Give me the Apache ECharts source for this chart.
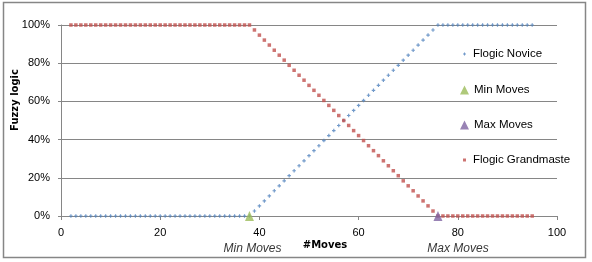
<!DOCTYPE html>
<html>
<head>
<meta charset="utf-8">
<script src="https://cdn.jsdelivr.net/npm/echarts@6/dist/echarts.min.js"></script>
<style>html,body{margin:0;padding:0;background:#fff}#c{width:592px;height:262px}</style>
</head>
<body>
<div id="c"></div>
<script>
var moves = [2,3,4,5,6,7,8,9,10,11,12,13,14,15,16,17,18,19,20,21,22,23,24,25,26,27,28,29,30,31,32,33,34,35,36,37,38,
  39,40,41,42,43,44,45,46,47,48,49,50,51,52,53,54,55,56,57,58,59,60,61,62,63,64,65,66,67,68,69,70,71,72,73,74,75,
  76,77,78,79,80,81,82,83,84,85,86,87,88,89,90,91,92,93,94,95];
var noviceValues = [0,0,0,0,0,0,0,0,0,0,0,0,0,0,0,0,0,0,0,0,0,0,0,0,0,0,0,0,0,0,0,0,0,0,0,0,0,
  0.026,0.053,0.079,0.105,0.132,0.158,0.184,0.211,0.237,0.263,0.289,0.316,0.342,0.368,0.395,0.421,0.447,0.474,0.5,
  0.526,0.553,0.579,0.605,0.632,0.658,0.684,0.711,0.737,0.763,0.789,0.816,0.842,0.868,0.895,0.921,0.947,0.974,
  1,1,1,1,1,1,1,1,1,1,1,1,1,1,1,1,1,1,1,1];
var grandmasterValues = [1,1,1,1,1,1,1,1,1,1,1,1,1,1,1,1,1,1,1,1,1,1,1,1,1,1,1,1,1,1,1,1,1,1,1,1,1,
  0.974,0.947,0.921,0.895,0.868,0.842,0.816,0.789,0.763,0.737,0.711,0.684,0.658,0.632,0.605,0.579,0.553,0.526,0.5,
  0.474,0.447,0.421,0.395,0.368,0.342,0.316,0.289,0.263,0.237,0.211,0.184,0.158,0.132,0.105,0.079,0.053,0.026,
  0,0,0,0,0,0,0,0,0,0,0,0,0,0,0,0,0,0,0,0];
var minMoves = [38, 0];
var maxMoves = [76, 0];
var seriesNames = ['Flogic Novice', 'Min Moves', 'Max Moves', 'Flogic Grandmaste'];
var xTicks = {min: 0, max: 100, interval: 20};
var yTicks = {min: 0, max: 1, interval: 0.2};

function pairs(xs, ys) { return xs.map(function (x, i) { return [x, ys[i]]; }); }

var plus = 'path://M1,0H2V1H3V2H2V3H1V2H0V1H1Z';
var gray = '#868686';
var legendText = {fontFamily: 'Liberation Sans', fontSize: 11.5, color: '#000', padding: [0, 0, 0, 2]};
var legendText2 = {fontFamily: 'Liberation Sans', fontSize: 11.5, color: '#000'};

var chart = echarts.init(document.getElementById('c'), null, {renderer: 'canvas'});
chart.setOption({
  animation: false,
  backgroundColor: '#fff',
  grid: {left: 61, right: 35, top: 25, bottom: 46},
  xAxis: {
    type: 'value', min: xTicks.min, max: xTicks.max, interval: xTicks.interval,
    axisLine: {show: true, lineStyle: {color: gray, width: 1}},
    axisTick: {show: true, length: 4, lineStyle: {color: gray}},
    splitLine: {show: false},
    axisLabel: {margin: 11, fontFamily: 'Liberation Sans', fontSize: 11, color: '#000'}
  },
  yAxis: {
    type: 'value', min: yTicks.min, max: yTicks.max, interval: yTicks.interval,
    axisLine: {show: true, lineStyle: {color: gray, width: 1}},
    axisTick: {show: true, length: 3, lineStyle: {color: gray}},
    splitLine: {show: true, lineStyle: {color: gray, width: 1}},
    axisLabel: {margin: 11, fontFamily: 'Liberation Sans', fontSize: 11, color: '#000',
      formatter: function (v) { return Math.round(v * 100) + '%'; }}
  },
  legend: [
    {orient: 'vertical', left: 463, top: 48, padding: 0, data: [seriesNames[0]], itemWidth: 3, itemHeight: 3, textStyle: legendText},
    {orient: 'vertical', left: 460, top: 84, padding: 0, data: [seriesNames[1]], itemWidth: 9, itemHeight: 9, textStyle: legendText2},
    {orient: 'vertical', left: 460, top: 119, padding: 0, data: [seriesNames[2]], itemWidth: 9, itemHeight: 9, textStyle: legendText2},
    {orient: 'vertical', left: 463, top: 154, padding: 0, data: [seriesNames[3]], itemWidth: 3, itemHeight: 3, textStyle: legendText}
  ],
  graphic: [
    {type: 'rect', silent: true, shape: {x: 3.5, y: 2.5, width: 582, height: 255}, style: {fill: 'none', stroke: gray, lineWidth: 1.5}},
    {type: 'text', x: 15, y: 100, rotation: Math.PI / 2, style: {text: 'Fuzzy logic', font: 'bold 10px "DejaVu Sans"', fill: '#000', align: 'center', verticalAlign: 'middle'}},
    {type: 'text', x: 325, y: 245, style: {text: '#Moves', font: 'bold 10px "DejaVu Sans"', fill: '#000', align: 'center', verticalAlign: 'middle'}}
  ],
  series: [
    {name: seriesNames[0], type: 'scatter', symbol: plus, symbolSize: 3.5, itemStyle: {color: '#4F81BD'}, data: pairs(moves, noviceValues)},
    {name: seriesNames[1], type: 'scatter', symbol: 'triangle', symbolSize: [9, 10], itemStyle: {color: '#9BBB59'}, z: 3,
      label: {show: true, position: 'inside', offset: [3, 33], formatter: seriesNames[1], fontFamily: 'Liberation Sans', fontStyle: 'italic', fontSize: 12, color: '#000'},
      data: [minMoves]},
    {name: seriesNames[2], type: 'scatter', symbol: 'triangle', symbolSize: [9, 10], itemStyle: {color: '#8064A2'}, z: 3,
      label: {show: true, position: 'inside', offset: [20, 33], formatter: seriesNames[2], fontFamily: 'Liberation Sans', fontStyle: 'italic', fontSize: 12, color: '#000'},
      data: [maxMoves]},
    {name: seriesNames[3], type: 'scatter', symbol: 'rect', symbolSize: 3.5, itemStyle: {color: '#C0504D'}, data: pairs(moves, grandmasterValues)}
  ]
});
</script>
</body>
</html>
